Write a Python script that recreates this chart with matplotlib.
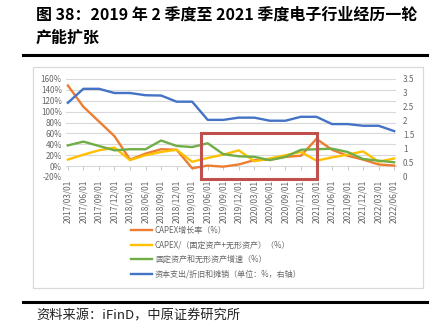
import matplotlib.pyplot as plt
from matplotlib.patches import Rectangle

plt.rcParams['font.family'] = ['Noto Sans CJK SC', 'DejaVu Sans']

# quarterly dates on the x axis
dates = ['2017/03/01', '2017/06/01', '2017/09/01', '2017/12/01',
         '2018/03/01', '2018/06/01', '2018/09/01', '2018/12/01',
         '2019/03/01', '2019/06/01', '2019/09/01', '2019/12/01',
         '2020/03/01', '2020/06/01', '2020/09/01', '2020/12/01',
         '2021/03/01', '2021/06/01', '2021/09/01', '2021/12/01',
         '2022/03/01', '2022/06/01']

# left axis series (%)
capex_growth = [148, 109, 82, 55, 12, 23, 31, 30, -4, 1, -1, 3,
                11, 12, 17, 19, 50, 30, 19, 12, 3, 1]
capex_ratio = [12, 21, 29, 34, 11, 20, 26, 30, 8, 15, 21, 29,
               9, 14, 20, 26, 10, 16, 21, 27, 8, 14]
asset_growth = [38, 45, 37, 29, 31, 31, 47, 37, 35, 42, 22, 18,
                17, 11, 17, 30, 31, 32, 26, 13, 10, 7]
# right axis series
capex_dep = [2.65, 3.15, 3.15, 3.0, 3.0, 2.92, 2.91, 2.69, 2.69, 2.04, 2.04,
             2.12, 2.12, 2.01, 2.01, 2.15, 2.15, 1.89, 1.89, 1.83, 1.83, 1.64]

labels = ['CAPEX增长率（%）',
          'CAPEX/（固定资产+无形资产）（%）',
          '固定资产和无形资产增速（%）',
          '资本支出/折旧和摊销（单位：%，右轴）']

left_ticks = [-20, 0, 20, 40, 60, 80, 100, 120, 140, 160]
right_ticks = [0, 0.5, 1, 1.5, 2, 2.5, 3, 3.5]

grey = '#666666'
W, H = 442, 334
fig = plt.figure(figsize=(W / 100, H / 100), dpi=100)

# title
fig.text(36 / W, 1 - 15 / H, '图 38：2019 年 2 季度至 2021 季度电子行业经历一轮',
         fontsize=11.5, fontweight='bold', va='center', ha='left')
fig.text(36 / W, 1 - 38 / H, '产能扩张',
         fontsize=11.5, fontweight='bold', va='center', ha='left')
# rules and chart frame
fig.add_artist(plt.Line2D([23 / W, 427 / W], [1 - 55 / H, 1 - 55 / H],
                          color='black', lw=2.2))
fig.add_artist(plt.Line2D([23 / W, 427 / W], [1 - 301.5 / H, 1 - 301.5 / H],
                          color='black', lw=2.2))
fig.add_artist(Rectangle((33 / W, 1 - 288 / H), 390 / W, 221 / H,
                         transform=fig.transFigure, fill=False,
                         edgecolor='#d9d9d9', lw=0.9))
fig.text(36 / W, 1 - 316 / H, '资料来源：iFinD，中原证券研究所',
         fontsize=9.5, va='center', ha='left', color='#222222')

ax = fig.add_axes([66 / W, 1 - 177 / H, 330 / W, 98 / H])
ax2 = ax.twinx()
x = list(range(len(dates)))

l1, = ax.plot(x, capex_growth, color='#ED7D31', lw=1.7)
l2, = ax.plot(x, capex_ratio, color='#FFC000', lw=1.7)
l3, = ax.plot(x, asset_growth, color='#70AD47', lw=1.7)
l4, = ax2.plot(x, capex_dep, color='#4472C4', lw=1.7)

ax.set_xlim(-0.12, 21.12)
ax.set_ylim(-20, 160)
ax.set_yticks(left_ticks)
ax.set_yticklabels([f'{t}%' for t in left_ticks])
ax2.set_ylim(0, 3.5)
ax2.set_yticks(right_ticks)
ax2.set_yticklabels([f'{t:g}' for t in right_ticks])

ax.set_xticks(x)
ax.set_xticklabels(dates, rotation=90)
ax.grid(axis='y', color='#d9d9d9', lw=0.8)
ax.set_axisbelow(True)
for a in (ax, ax2):
    for s in a.spines.values():
        s.set_visible(False)
ax.tick_params(axis='x', length=0, pad=2, labelsize=6, labelcolor=grey)
ax.tick_params(axis='y', length=0, pad=3, labelsize=5.8, labelcolor=grey)
ax2.tick_params(axis='y', length=0, pad=5, labelsize=5.8, labelcolor=grey)

# category axis crossing at 0%
zero_axis = ax.secondary_xaxis(20 / 180)
zero_axis.set_xticks(x)
zero_axis.tick_params(length=3, width=0.6, color='#bfbfbf', labelbottom=False)
zero_axis.spines['bottom'].set_color('#bfbfbf')
zero_axis.spines['bottom'].set_linewidth(0.6)

# highlight box for 2019Q2 - 2021Q1
ax.add_patch(Rectangle((8.6, -24), 7.45, 85, fill=False,
                       edgecolor='#C0504D', lw=2.2, clip_on=False, zorder=5))

fig.legend([l1, l2, l3, l4], labels, loc='upper left',
           bbox_to_anchor=(131 / W, 1 - 226 / H), frameon=False,
           fontsize=5.8, labelcolor=grey, handlelength=2.6,
           handletextpad=0.35, labelspacing=0.7, borderpad=0,
           borderaxespad=0)

fig.savefig('out.png', dpi=100)
